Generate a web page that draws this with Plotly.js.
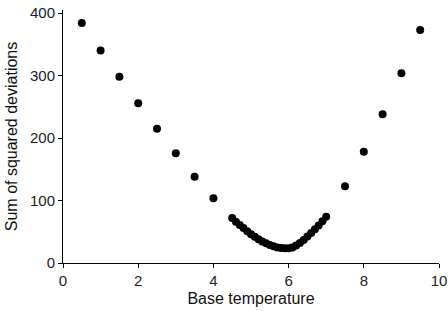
<!DOCTYPE html>
<html>
<head>
<meta charset="utf-8">
<script src="https://cdn.plot.ly/plotly-3.0.1.min.js"></script>
<style>html,body{margin:0;padding:0;background:#fff;}#chart{width:448px;height:311px;}</style>
</head>
<body>
<div id="chart"></div>
<script>
const baseTemp = [0.5, 1.0, 1.5, 2.0, 2.5, 3.0, 3.5, 4.0,
  4.5, 4.6, 4.7, 4.8, 4.9, 5.0, 5.1, 5.2, 5.3, 5.4, 5.5, 5.6, 5.7, 5.8, 5.9,
  6.0, 6.1, 6.2, 6.3, 6.4, 6.5, 6.6, 6.7, 6.8, 6.9, 7.0,
  7.5, 8.0, 8.5, 9.0, 9.5];
const sumSq = [384, 340, 298, 255.5, 215, 175.5, 138, 103.5,
  72, 66, 61, 56, 51, 46, 42, 38, 34.5, 31.5, 29, 27, 25, 24, 23.5,
  23.5, 25, 28, 32, 37, 42.5, 48, 54, 60, 67, 74,
  123, 178, 238, 303.5, 373];
const xTicks = [0, 2, 4, 6, 8, 10];
const yTicks = [0, 100, 200, 300, 400];

const tickFont = {family: 'Liberation Sans, Arial, sans-serif', size: 15, color: '#222'};
const titleFont = {family: 'Liberation Sans, Arial, sans-serif', size: 16, color: '#111'};
Plotly.newPlot('chart', [{
  x: baseTemp, y: sumSq, type: 'scatter', mode: 'markers',
  marker: {color: '#000', size: 8}
}], {
  width: 448, height: 311,
  margin: {l: 63, r: 9, t: 10, b: 48},
  paper_bgcolor: '#fff', plot_bgcolor: '#fff',
  font: tickFont,
  showlegend: false,
  xaxis: {
    range: [0, 10], tickvals: xTicks, ticks: 'outside', ticklen: 4, tickcolor: '#000',
    showline: true, linecolor: '#000', linewidth: 1, showgrid: false, zeroline: false,
    tickfont: tickFont,
    title: {text: 'Base temperature', font: titleFont, standoff: 4}
  },
  yaxis: {
    range: [0, 404.8], tickvals: yTicks, ticks: 'outside', ticklen: 4, tickcolor: '#000',
    showline: true, linecolor: '#000', linewidth: 1, showgrid: false, zeroline: false,
    tickfont: tickFont,
    title: {text: 'Sum of squared deviations', font: titleFont, standoff: 8}
  }
}, {staticPlot: true});
</script>
</body>
</html>
